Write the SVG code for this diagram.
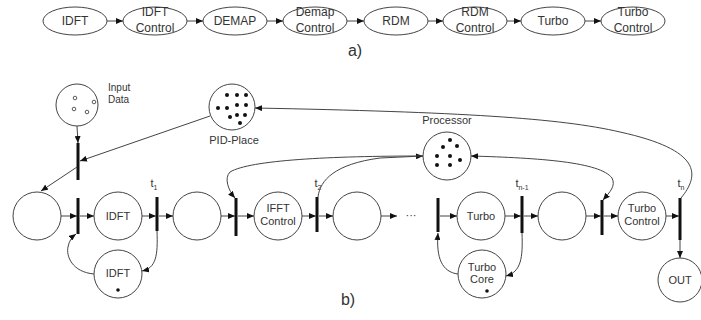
<svg xmlns="http://www.w3.org/2000/svg" width="701" height="320" viewBox="0 0 701 320">
<style>
.n{fill:#fff;stroke:#444;stroke-width:1}
.t{font-family:"Liberation Sans",Arial,sans-serif;fill:#333;text-anchor:middle}
.s11{font-size:11px}
.s12{font-size:12px}
.c{fill:none;stroke:#444;stroke-width:1}
.bar{fill:#111}
.tok{fill:#111}
.otok{fill:#fff;stroke:#333;stroke-width:0.8}
</style>
<defs>
<marker id="ah" markerUnits="userSpaceOnUse" markerWidth="7" markerHeight="6" refX="7" refY="3" orient="auto-start-reverse">
<path d="M0,0 L7,3 L0,6 z" fill="#111"/>
</marker>
</defs>
<rect width="701" height="320" fill="#fff"/>

<!-- part a -->
<g id="a-idft"><ellipse class="n" cx="75" cy="21" rx="32" ry="14"/><text class="t s12" x="75" y="25">IDFT</text></g>
<g id="a-idftc"><ellipse class="n" cx="155" cy="21" rx="32" ry="14"/><text class="t s12" x="155" y="16">IDFT</text><text class="t s12" x="155" y="32">Control</text></g>
<g id="a-demap"><ellipse class="n" cx="235" cy="21" rx="32" ry="14"/><text class="t s12" x="235" y="25">DEMAP</text></g>
<g id="a-demapc"><ellipse class="n" cx="315" cy="21" rx="32" ry="14"/><text class="t s12" x="315" y="16">Demap</text><text class="t s12" x="315" y="32">Control</text></g>
<g id="a-rdm"><ellipse class="n" cx="396" cy="21" rx="32" ry="14"/><text class="t s12" x="396" y="25">RDM</text></g>
<g id="a-rdmc"><ellipse class="n" cx="475" cy="21" rx="32" ry="14"/><text class="t s12" x="475" y="16">RDM</text><text class="t s12" x="475" y="32">Control</text></g>
<g id="a-turbo"><ellipse class="n" cx="553" cy="21" rx="32" ry="14"/><text class="t s12" x="553" y="25">Turbo</text></g>
<g id="a-turboc"><ellipse class="n" cx="633" cy="21" rx="32" ry="14"/><text class="t s12" x="633" y="16">Turbo</text><text class="t s12" x="633" y="32">Control</text></g>
<text class="t" x="355" y="56" style="font-size:16px">a)</text>

<!-- part b nodes -->
<g id="input-data"><circle class="n" cx="77" cy="105" r="21"/>
<circle class="otok" cx="75" cy="98" r="1.8"/><circle class="otok" cx="94" cy="102" r="1.8"/><circle class="otok" cx="74" cy="109" r="1.8"/><circle class="otok" cx="87" cy="112" r="1.8"/>
<text class="t s11" x="108" y="91" style="text-anchor:start;font-size:10px">Input</text><text class="t" x="108" y="103" style="text-anchor:start;font-size:10px">Data</text></g>

<g id="pid-place"><circle class="n" cx="232" cy="107" r="23"/>
<circle class="tok" cx="227" cy="95" r="2"/><circle class="tok" cx="237" cy="95" r="2"/><circle class="tok" cx="246" cy="95" r="2"/>
<circle class="tok" cx="218" cy="108" r="2"/><circle class="tok" cx="227" cy="108" r="2"/><circle class="tok" cx="237" cy="105" r="2"/><circle class="tok" cx="246" cy="105" r="2"/>
<circle class="tok" cx="230" cy="117" r="2"/><circle class="tok" cx="237" cy="115" r="2"/><circle class="tok" cx="245" cy="115" r="2"/><circle class="tok" cx="240" cy="123" r="2"/>
<text class="t s11" x="234" y="144">PID-Place</text></g>

<g id="processor"><circle class="n" cx="447" cy="156" r="24"/>
<circle class="tok" cx="450" cy="140" r="2"/><circle class="tok" cx="457" cy="146" r="2"/><circle class="tok" cx="443" cy="147" r="2"/>
<circle class="tok" cx="437" cy="156" r="2"/><circle class="tok" cx="450" cy="156" r="2"/><circle class="tok" cx="460" cy="160" r="2"/>
<circle class="tok" cx="437" cy="165" r="2"/><circle class="tok" cx="450" cy="165" r="2"/>
<text class="t s11" x="447" y="124">Processor</text></g>

<g id="p1"><circle class="n" cx="37" cy="216" r="24"/></g>
<g id="idft"><circle class="n" cx="118" cy="216" r="24"/><text class="t s11" x="118" y="220">IDFT</text></g>
<g id="p3"><circle class="n" cx="197" cy="216" r="24"/></g>
<g id="ifft-control"><circle class="n" cx="278" cy="216" r="24"/><text class="t s11" x="278" y="212">IFFT</text><text class="t s11" x="278" y="225">Control</text></g>
<g id="p5"><circle class="n" cx="357" cy="216" r="24"/></g>
<g id="turbo"><circle class="n" cx="481" cy="216" r="24"/><text class="t s11" x="481" y="220">Turbo</text></g>
<g id="p7"><circle class="n" cx="562" cy="216" r="24"/></g>
<g id="turbo-control"><circle class="n" cx="642" cy="216" r="24"/><text class="t s11" x="642" y="212">Turbo</text><text class="t s11" x="642" y="225">Control</text></g>
<g id="out"><circle class="n" cx="680" cy="280" r="22"/><text class="t s11" x="680" y="284">OUT</text></g>
<g id="idft-res"><circle class="n" cx="118" cy="274" r="24"/><text class="t s11" x="118" y="277">IDFT</text><circle class="tok" cx="118" cy="290" r="1.8"/></g>
<g id="turbo-core"><circle class="n" cx="482" cy="274" r="24"/><text class="t s11" x="482" y="271">Turbo</text><text class="t s11" x="482" y="283">Core</text><circle class="tok" cx="487" cy="291" r="1.8"/></g>

<!-- transitions -->
<g id="transitions">
<rect class="bar" x="76.5" y="143" width="3" height="37"/>
<rect class="bar" x="76.5" y="198" width="3" height="36"/>
<rect class="bar" x="155.5" y="197" width="3" height="34"/>
<rect class="bar" x="234.5" y="198" width="3" height="38"/>
<rect class="bar" x="315.5" y="197" width="3" height="35"/>
<rect class="bar" x="436.5" y="198" width="3" height="34"/>
<rect class="bar" x="520.5" y="196" width="3" height="37"/>
<rect class="bar" x="600.5" y="200" width="3" height="35"/>
<rect class="bar" x="678.5" y="198" width="3" height="42"/>
<text class="t s11" x="154" y="187">t<tspan style="font-size:7px" dy="3">1</tspan></text>
<text class="t s11" x="318" y="187">t<tspan style="font-size:7px" dy="3">2</tspan></text>
<text class="t s11" x="522" y="187">t<tspan style="font-size:7px" dy="3">n-1</tspan></text>
<text class="t s11" x="681" y="187">t<tspan style="font-size:7px" dy="3">n</tspan></text>
</g>

<!-- connectors -->
<g id="connectors" class="c">
<line x1="107" y1="21" x2="123" y2="21" marker-end="url(#ah)"/>
<line x1="187" y1="21" x2="203" y2="21" marker-end="url(#ah)"/>
<line x1="267" y1="21" x2="283" y2="21" marker-end="url(#ah)"/>
<line x1="347" y1="21" x2="364" y2="21" marker-end="url(#ah)"/>
<line x1="428" y1="21" x2="443" y2="21" marker-end="url(#ah)"/>
<line x1="507" y1="21" x2="521" y2="21" marker-end="url(#ah)"/>
<line x1="585" y1="21" x2="601" y2="21" marker-end="url(#ah)"/>

<line x1="77" y1="126" x2="78" y2="143" marker-end="url(#ah)"/>
<line x1="210" y1="116" x2="80" y2="161" marker-end="url(#ah)"/>
<line x1="77" y1="167" x2="41" y2="191" marker-end="url(#ah)"/>

<line x1="61" y1="216" x2="77" y2="216" marker-end="url(#ah)"/>
<line x1="80" y1="216" x2="94" y2="216" marker-end="url(#ah)"/>
<line x1="142" y1="216" x2="156" y2="216" marker-end="url(#ah)"/>
<line x1="159" y1="216" x2="173" y2="216" marker-end="url(#ah)"/>
<line x1="221" y1="216" x2="235" y2="216" marker-end="url(#ah)"/>
<line x1="238" y1="216" x2="254" y2="216" marker-end="url(#ah)"/>
<line x1="302" y1="216" x2="316" y2="216" marker-end="url(#ah)"/>
<line x1="319" y1="216" x2="333" y2="216" marker-end="url(#ah)"/>
<line x1="381" y1="216" x2="397" y2="216" marker-end="url(#ah)"/>
<line x1="440" y1="216" x2="457" y2="216" marker-end="url(#ah)"/>
<line x1="505" y1="216" x2="521" y2="216" marker-end="url(#ah)"/>
<line x1="524" y1="216" x2="538" y2="216" marker-end="url(#ah)"/>
<line x1="586" y1="216" x2="601" y2="216" marker-end="url(#ah)"/>
<line x1="604" y1="216" x2="618" y2="216" marker-end="url(#ah)"/>
<line x1="666" y1="216" x2="679" y2="216" marker-end="url(#ah)"/>
<line x1="680" y1="240" x2="680" y2="258" marker-end="url(#ah)"/>

<path d="M157,231 C158,256 156,268 142,271" marker-end="url(#ah)"/>
<path d="M94,274 C72,272 66,256 68,247 C69,241 72,237 76,234" marker-end="url(#ah)"/>
<path d="M522,233 C523,258 521,272 506,276" marker-end="url(#ah)"/>
<path d="M458,274 C442,272 436,258 438,233" marker-end="url(#ah)"/>

<path d="M318,197 C320,180 335,164 380,158 L423,156" marker-end="url(#ah)"/>
<path d="M423,156 C330,156 250,160 230,172 C224,178 228,190 235,198" marker-end="url(#ah)"/>
<path d="M471,156 C540,158 600,162 612,178 C616,186 610,192 603,200" marker-start="url(#ah)" marker-end="url(#ah)"/>
<path d="M681,198 C700,175 702,150 620,132 C560,118 460,112 255,108" marker-end="url(#ah)"/>
</g>
<text class="t" x="411" y="219" style="font-size:11px">···</text>
<text class="t" x="348" y="305" style="font-size:16px">b)</text>
</svg>
